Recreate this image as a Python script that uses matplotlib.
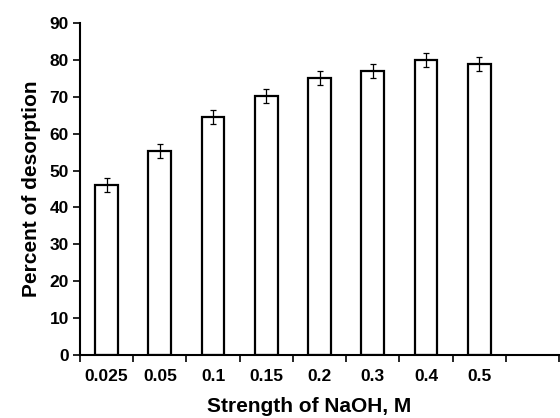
import numpy as np
import matplotlib.pyplot as plt

# data
strengths = ['0.025', '0.05', '0.1', '0.15', '0.2', '0.3', '0.4', '0.5']
desorption = [46.1, 55.3, 64.6, 70.1, 75.1, 77.1, 80.0, 79.0]
errors = [1.8, 1.8, 1.9, 1.9, 1.9, 1.9, 1.9, 1.9]
n_slots = 9  # axis leaves one empty slot on the right

plt.rcParams['font.family'] = ['Liberation Sans', 'DejaVu Sans']
plt.rcParams['font.weight'] = 'bold'

fig = plt.figure(figsize=(5.6, 4.18), dpi=100)
ax = fig.add_axes([80 / 560, 63 / 418, 479 / 560, 332 / 418])

x = np.arange(len(strengths)) + 0.5
ax.bar(x, desorption, width=0.43, color='white', edgecolor='black', linewidth=1.6,
       yerr=errors, capsize=2.5, error_kw=dict(elinewidth=0.9, capthick=0.9, ecolor='black'))

ax.set_xlim(0, n_slots)
ax.set_ylim(0, 90)
ax.set_yticks(range(0, 91, 10))
ax.set_xticks(range(0, n_slots + 1))
ax.set_xticklabels([])
ax.set_xticks(x, minor=True)
ax.set_xticklabels(strengths, minor=True)
ax.tick_params(axis='x', which='minor', length=0, pad=10, labelsize=12.5)
ax.tick_params(axis='x', which='major', length=5, width=1.2, direction='out')
ax.tick_params(axis='y', length=5, width=1.2, direction='out', labelsize=12.5, pad=3)

for s in ['top', 'right']:
    ax.spines[s].set_visible(False)
for s in ['left', 'bottom']:
    ax.spines[s].set_linewidth(1.5)

ax.set_xlabel('Strength of NaOH, M', fontsize=15, fontweight='bold')
ax.xaxis.set_label_coords(0.479, -0.125)
ax.set_ylabel('Percent of desorption', fontsize=15, fontweight='bold', labelpad=6)

fig.savefig('out.png', dpi=100)
